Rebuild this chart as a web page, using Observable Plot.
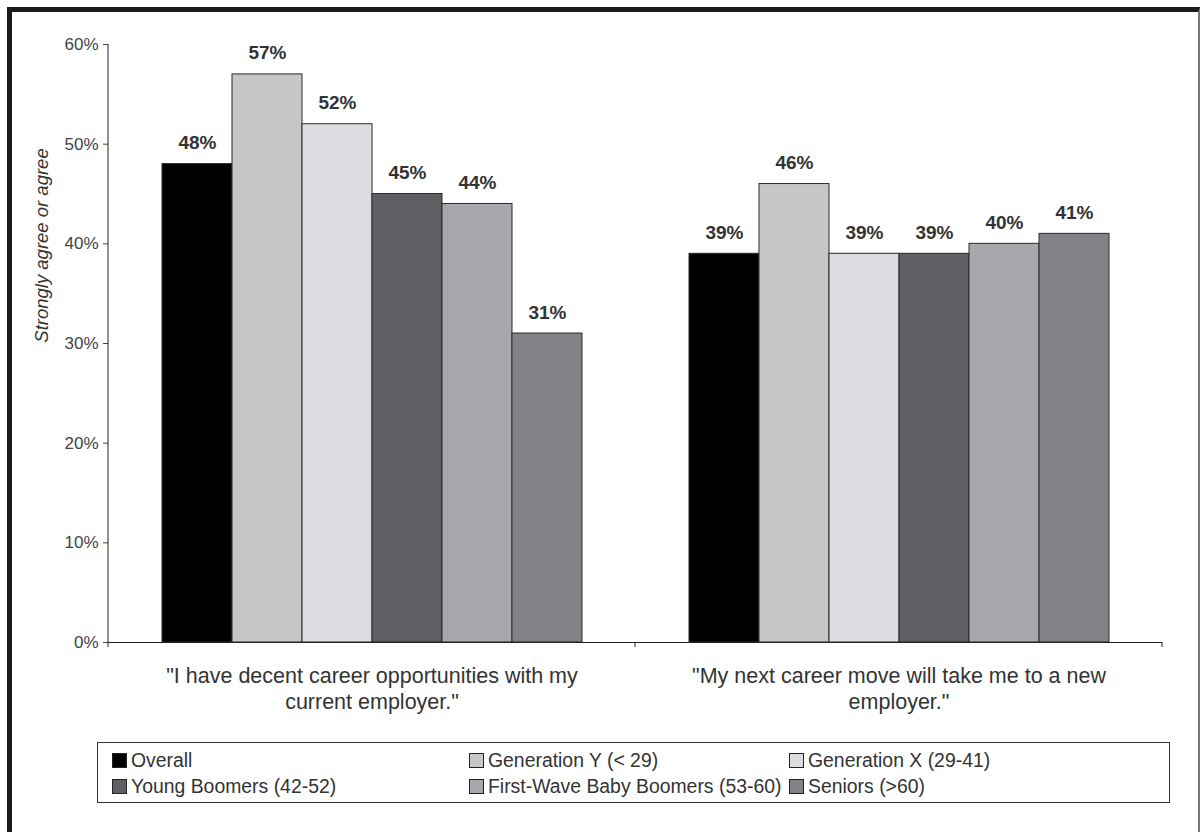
<!DOCTYPE html>
<html>
<head>
<meta charset="utf-8">
<script src="https://cdn.jsdelivr.net/npm/d3@7"></script>
<script src="https://cdn.jsdelivr.net/npm/@observablehq/plot@0.6"></script>
<style>
  body { margin: 0; background: #fff; font-family: "Liberation Sans", Arial, sans-serif; }
  #wrap { position: relative; width: 1201px; height: 832px; overflow: hidden; background: #fff; }
  #border { position: absolute; left: 7px; top: 7px; width: 1186px; height: 830px;
            border-left: 5px solid #1a1a1a; border-top: 5px solid #1a1a1a; border-right: 2px solid #777; }
  #chart { position: absolute; left: 0; top: 0; }
  #legend { position: absolute; left: 97px; top: 742px; width: 1071px; height: 59px;
            border: 1px solid #333; background: #fff; }
  .item { position: absolute; display: flex; align-items: center; font-size: 19.4px; color: #333; white-space: nowrap; }
  .sw { width: 13px; height: 13px; border: 1px solid #222; margin-right: 4px; }
</style>
</head>
<body>
<div id="wrap">
  <div id="border"></div>
  <div id="chart"></div>
  <div id="legend"></div>
</div>
<script>
const questions = [
  "\"I have decent career opportunities with my\ncurrent employer.\"",
  "\"My next career move will take me to a new\nemployer.\""
];
const series = [
  "Overall",
  "Generation Y (< 29)",
  "Generation X (29-41)",
  "Young Boomers (42-52)",
  "First-Wave Baby Boomers (53-60)",
  "Seniors (>60)"
];
const valuesQ1 = [48, 57, 52, 45, 44, 31];
const valuesQ2 = [39, 46, 39, 39, 40, 41];
const colors = ["#000000", "#c6c7c9", "#dcdde0", "#5f5f63", "#a6a8ab", "#808285"];
const yTicks = [0, 10, 20, 30, 40, 50, 60];
const yTitle = "Strongly agree or agree";

const data = [
  ...series.map((s, i) => ({question: questions[0], series: s, value: valuesQ1[i]})),
  ...series.map((s, i) => ({question: questions[1], series: s, value: valuesQ2[i]}))
];

const plot = Plot.plot({
  width: 1201,
  height: 730,
  marginLeft: 108,
  marginRight: 39,
  marginTop: 44,
  marginBottom: 88,
  style: {fontFamily: "Liberation Sans, Arial, sans-serif", background: "transparent", overflow: "visible"},
  fx: {domain: questions, padding: 0, axis: null, label: null},
  x: {domain: series, paddingInner: 0, paddingOuter: 0.76, axis: null},
  y: {domain: [0, 60], axis: null},
  color: {domain: series, range: colors},
  marks: [
    Plot.barY(data, {fx: "question", x: "series", y: "value", fill: "series", stroke: "#2a2a2a", strokeWidth: 1}),
    Plot.ruleY([0], {stroke: "#222", strokeWidth: 1}),
    Plot.axisY({ticks: yTicks, tickFormat: d => d + "%", tickSize: 5, tickPadding: 5, fontSize: 17, color: "#444", label: null}),
    Plot.text(data, {fx: "question", x: "series", y: "value", text: d => d.value + "%", dy: -21,
                     fontWeight: "bold", fontSize: 19, fill: "#333"}),
    Plot.text(questions, {fx: d => d, text: d => d, frameAnchor: "bottom", lineAnchor: "top", dy: 22,
                          fontSize: 21.5, lineHeight: 1.22, fill: "#333"}),
    Plot.text([yTitle], {frameAnchor: "left", textAnchor: "middle", dx: -66, dy: -98, rotate: -90, fontStyle: "italic",
                         fontSize: 18.5, fill: "#333", facetAnchor: "left"})
  ]
});
document.getElementById("chart").appendChild(plot);

// axis line and category boundary ticks derived from the plot's own scales
const fx = plot.scale("fx");
const y = plot.scale("y");
const svg = d3.select(plot);
const y0 = y.apply(0), yTop = y.apply(60);
const bounds = questions.map(q => fx.apply(q)).concat([fx.apply(questions[questions.length - 1]) + fx.bandwidth]);
const g = svg.append("g").attr("stroke", "#222").attr("stroke-width", 1);
g.append("line").attr("x1", bounds[0]).attr("x2", bounds[0]).attr("y1", yTop).attr("y2", y0 + 5);
bounds.slice(1).forEach(b => g.append("line").attr("x1", b).attr("x2", b).attr("y1", y0).attr("y2", y0 + 5));

// legend
const cols = [14, 371, 691];
const rows = [17, 43];
const leg = d3.select("#legend");
series.forEach((s, i) => {
  const it = leg.append("div").attr("class", "item")
    .style("left", cols[i % 3] + "px").style("top", (rows[Math.floor(i / 3)] - 11) + "px").style("height", "22px");
  it.append("div").attr("class", "sw").style("background", colors[i]);
  it.append("span").text(s);
});
</script>
</body>
</html>
